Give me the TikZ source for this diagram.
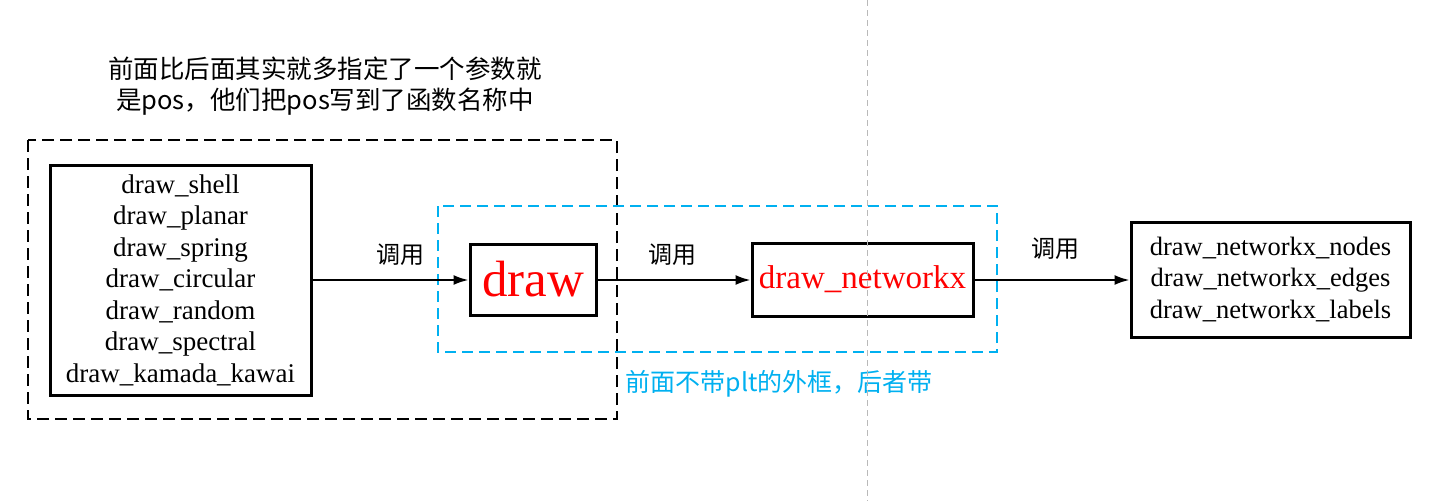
\documentclass[tikz,border=0pt]{standalone}
\usepackage{fontspec}
\setmainfont{Liberation Serif}
\newfontfamily\cjk{Noto Sans CJK SC}
\usepackage{xcolor}
\usetikzlibrary{arrows.meta}
\definecolor{skyblue}{RGB}{0,176,240}
\definecolor{guidegray}{RGB}{185,185,185}

\begin{document}
\begin{tikzpicture}[x=1pt, y=-1pt,
    box/.style={draw, line width=3pt, inner sep=0pt, align=center},
    call/.style={line width=2pt, -{Latex[length=15pt,width=10pt]}},
    calltext/.style={font=\cjk\fontsize{24}{28}\selectfont},
    ]
    % Page size
    \useasboundingbox (0,0) rectangle (1437,501);

    % Frames
    \draw[line width=1.7pt, dash pattern=on 12pt off 6pt] (28,140) rectangle (617,419);
    \draw[skyblue, line width=1.7pt, dash pattern=on 11pt off 6pt] (438,206) rectangle (997,352);

    % Note above the left frame
    \node (note) at (325,86) [align=center, font=\cjk\fontsize{25.5}{31}\selectfont]
        {前面比后面其实就多指定了一个参数就\\是pos，他们把pos写到了函数名称中};

    % Boxes
    \node (layouts) at (180.5,280) [box, minimum width=261pt, minimum height=230pt,
        font=\fontsize{27}{31.5}\selectfont]
        {draw\_shell\\draw\_planar\\draw\_spring\\draw\_circular\\draw\_random\\draw\_spectral\\draw\_kamada\_kawai};
    \node (draw) at (533,279.5) [box, minimum width=126pt, minimum height=71pt,
        text=red, font=\fontsize{51}{51}\selectfont] {draw};
    \node (netx) at (862.5,279.5) [box, minimum width=221pt, minimum height=73pt,
        text=red, font=\fontsize{33}{33}\selectfont] {draw\_networkx};
    \node (parts) at (1270.5,279.5) [box, minimum width=279pt, minimum height=115pt,
        font=\fontsize{26.5}{31.5}\selectfont]
        {draw\_networkx\_nodes\\draw\_networkx\_edges\\draw\_networkx\_labels};

    % Calls
    \draw[call] (layouts.east |- 0,280) -- (draw.west |- 0,280);
    \draw[call] (draw.east |- 0,280) -- (netx.west |- 0,280);
    \draw[call] (netx.east |- 0,280) -- (parts.west |- 0,280);
    \node (call1) at (400,255) [calltext] {调用};
    \node (call2) at (672,255) [calltext] {调用};
    \node (call3) at (1055,249) [calltext] {调用};

    % Note under the blue frame
    \node (plt) at (622,384) [anchor=west, text=skyblue, font=\cjk\fontsize{25}{28}\selectfont]
        {前面不带plt的外框，后者带};

    % Guide line
    \draw[guidegray, line width=1pt, dash pattern=on 6pt off 4pt] (867.5,0) -- (867.5,501);

\end{tikzpicture}
\end{document}
